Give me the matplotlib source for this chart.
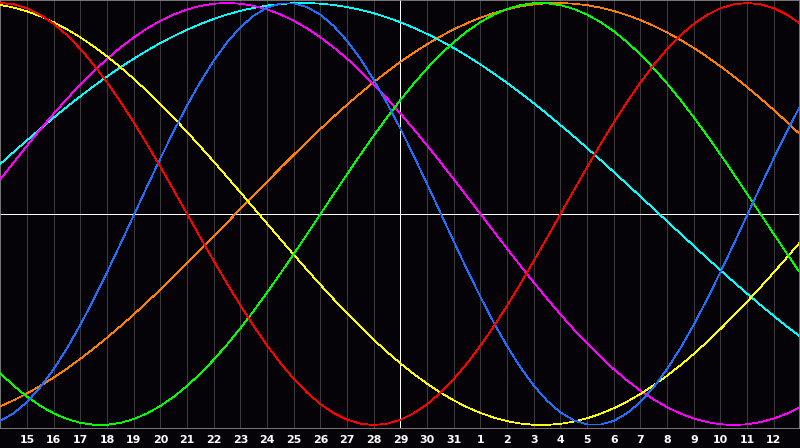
import matplotlib
matplotlib.use("Agg")
import matplotlib.pyplot as plt

# day labels (index 0..28); chart spans index -1 .. 29
day_labels = ["15", "16", "17", "18", "19", "20", "21", "22", "23", "24", "25", "26", "27", "28",
              "29", "30", "31", "1", "2", "3", "4", "5", "6", "7", "8", "9", "10", "11", "12"]
today_index = 14
day_index = list(range(-1, 30))          # values read at each day line
mid_index = [d + 0.5 for d in range(-1, 29)]  # values read half-way between day lines

red_day = [1.0, 0.9749, 0.9010, 0.7818, 0.6235, 0.4339, 0.2225, 0.0, -0.2225, -0.4339, -0.6235,
           -0.7818, -0.9010, -0.9749, -1.0, -0.9749, -0.9010, -0.7818, -0.6235, -0.4339, -0.2225,
           0.0, 0.2225, 0.4339, 0.6235, 0.7818, 0.9010, 0.9749, 1.0, 0.9749, 0.9010]
red_mid = [0.9937, 0.9439, 0.8467, 0.7071, 0.5320, 0.3303, 0.1120, -0.1120, -0.3303, -0.5320,
           -0.7071, -0.8467, -0.9439, -0.9937, -0.9937, -0.9439, -0.8467, -0.7071, -0.5320,
           -0.3303, -0.1120, 0.1120, 0.3303, 0.5320, 0.7071, 0.8467, 0.9439, 0.9937, 0.9937,
           0.9439]

green_day = [-0.7557, -0.8660, -0.9450, -0.9898, -0.9989, -0.9718, -0.9096, -0.8146, -0.6901,
             -0.5406, -0.3717, -0.1893, 0.0, 0.1893, 0.3717, 0.5406, 0.6901, 0.8146, 0.9096,
             0.9718, 0.9989, 0.9898, 0.9450, 0.8660, 0.7557, 0.6182, 0.4582, 0.2817, 0.0950,
             -0.0950, -0.2817]
green_mid = [-0.8146, -0.9096, -0.9718, -0.9989, -0.9898, -0.9450, -0.8660, -0.7557, -0.6182,
             -0.4582, -0.2817, -0.0950, 0.0950, 0.2817, 0.4582, 0.6182, 0.7557, 0.8660, 0.9450,
             0.9898, 0.9989, 0.9718, 0.9096, 0.8146, 0.6901, 0.5406, 0.3717, 0.1893, 0.0,
             -0.1893]

blue_day = [-0.9802, -0.8904, -0.7345, -0.5243, -0.2750, -0.0054, 0.2646, 0.5149, 0.7272, 0.8854,
            0.9780, 0.9980, 0.9441, 0.8202, 0.6353, 0.4034, 0.1416, -0.1307, -0.3935, -0.6268,
            -0.8139, -0.9404, -0.9973, -0.9802, -0.8904, -0.7345, -0.5243, -0.2750, -0.0054,
            0.2646, 0.5149]
blue_mid = [-0.9441, -0.8201, -0.6353, -0.4034, -0.1416, 0.1307, 0.3934, 0.6269, 0.8139, 0.9404,
            0.9973, 0.9802, 0.8904, 0.7346, 0.5243, 0.2751, 0.0054, -0.2646, -0.5149, -0.7272,
            -0.8853, -0.9780, -0.9980, -0.9441, -0.8202, -0.6353, -0.4033, -0.1416, 0.1307,
            0.3934]

magenta_day = [0.1646, 0.3247, 0.4759, 0.6142, 0.7357, 0.8372, 0.9158, 0.9694, 0.9966, 0.9966,
               0.9694, 0.9158, 0.8372, 0.7357, 0.6142, 0.4759, 0.3247, 0.1646, 0.0, -0.1646,
               -0.3247, -0.4759, -0.6142, -0.7357, -0.8372, -0.9158, -0.9694, -0.9966, -0.9966,
               -0.9694, -0.9158]
magenta_mid = [0.2455, 0.4017, 0.5469, 0.6773, 0.7891, 0.8795, 0.9458, 0.9864, 1.0, 0.9864,
               0.9458, 0.8795, 0.7891, 0.6773, 0.5469, 0.4017, 0.2455, 0.0826, -0.0826, -0.2455,
               -0.4017, -0.5469, -0.6773, -0.7891, -0.8795, -0.9458, -0.9864, -1.0, -0.9864,
               -0.9458]

cyan_day = [0.2379, 0.3500, 0.4574, 0.5584, 0.6518, 0.7361, 0.8103, 0.8735, 0.9245, 0.9628,
            0.9878, 0.9992, 0.9969, 0.9808, 0.9512, 0.9085, 0.8533, 0.7864, 0.7086, 0.6210,
            0.5249, 0.4215, 0.3123, 0.1988, 0.0826, -0.0347, -0.1514, -0.2662, -0.3774,
            -0.4833, -0.5825]
cyan_mid = [0.2945, 0.4044, 0.5088, 0.6062, 0.6953, 0.7746, 0.8434, 0.9006, 0.9453, 0.9770,
            0.9953, 0.9998, 0.9906, 0.9677, 0.9315, 0.8825, 0.8213, 0.7488, 0.6659, 0.5739,
            0.4740, 0.3676, 0.2561, 0.1410, 0.0241, -0.0932, -0.2093, -0.3224, -0.4311,
            -0.5339]

orange_day = [-0.9111, -0.8500, -0.7745, -0.6858, -0.5856, -0.4756, -0.3574, -0.2333, -0.1052,
              0.0247, 0.1542, 0.2811, 0.4032, 0.5185, 0.6250, 0.7211, 0.8047, 0.8751, 0.9304,
              0.9701, 0.9934, 0.9999, 0.9895, 0.9624, 0.9190, 0.8602, 0.7869, 0.7000, 0.6014,
              0.4927, 0.3755]
orange_mid = [-0.8825, -0.8140, -0.7321, -0.6372, -0.5317, -0.4174, -0.2960, -0.1695, -0.0403,
              0.0896, 0.2181, 0.3428, 0.4617, 0.5730, 0.6745, 0.7645, 0.8418, 0.9046, 0.9522,
              0.9838, 0.9987, 0.9968, 0.9780, 0.9427, 0.8915, 0.8251, 0.7447, 0.6521, 0.5482,
              0.4351]

yellow_day = [0.9909, 0.9602, 0.9084, 0.8368, 0.7466, 0.6404, 0.5200, 0.3882, 0.2478, 0.1021,
              -0.0459, -0.1929, -0.3356, -0.4710, -0.5962, -0.7082, -0.8046, -0.8835, -0.9430,
              -0.9818, -0.9991, -0.9945, -0.9681, -0.9205, -0.8526, -0.7661, -0.6630, -0.5451,
              -0.4154, -0.2765, -0.1316]
yellow_mid = [0.9783, 0.9369, 0.8751, 0.7940, 0.6955, 0.5819, 0.4554, 0.3188, 0.1754, 0.0281,
              -0.1198, -0.2650, -0.4045, -0.5351, -0.6539, -0.7582, -0.8463, -0.9157, -0.9650,
              -0.9932, -0.9995, -0.9840, -0.9468, -0.8889, -0.8116, -0.7165, -0.6055, -0.4814,
              -0.3468, -0.2045]

series = [
    (orange_day, orange_mid, "#ff8000"),
    (cyan_day, cyan_mid, "#00ffff"),
    (magenta_day, magenta_mid, "#ff00ff"),
    (yellow_day, yellow_mid, "#ffff00"),
    (green_day, green_mid, "#00ff00"),
    (blue_day, blue_mid, "#1e6eff"),
    (red_day, red_mid, "#ff0000"),
]


def merge(day_vals, mid_vals):
    xs, ys = [], []
    for k in range(len(mid_vals)):
        xs += [day_index[k], mid_index[k]]
        ys += [day_vals[k], mid_vals[k]]
    xs.append(day_index[-1])
    ys.append(day_vals[-1])
    return xs, ys


bg = "#050307"
fig = plt.figure(figsize=(8.0, 4.48), dpi=100, facecolor=bg)
ax = fig.add_axes([0.0006, 20 / 448, 798.5 / 800, 428 / 448])
ax.set_facecolor(bg)

ax.set_xlim(-1, 29 - 1.5 / 26.667)
ax.set_ylim(-1.0142, 1.0142)

# day grid
for i in range(len(day_labels)):
    ax.axvline(i, color="#3a3a3a", lw=0.55, zorder=1, antialiased=False)

ax.axhline(0, color="#ffffff", lw=0.55, zorder=2, antialiased=False)
ax.axvline(today_index, color="#ffffff", lw=0.55, zorder=2, antialiased=False)

for dvals, mvals, col in series:
    xs, ys = merge(dvals, mvals)
    ax.plot(xs, ys, color=col, lw=0.55, zorder=3, antialiased=False)

ax.set_xticks(range(len(day_labels)))
ax.set_xticklabels(day_labels, color="white", fontsize=7.9, fontweight="bold",
                   family="DejaVu Sans")
ax.tick_params(axis="x", length=0, pad=4.8)
ax.set_yticks([])
for s in ax.spines.values():
    s.set_color("#8a8a8a")
    s.set_linewidth(0.6)

fig.savefig("out.png", dpi=100, facecolor=bg)
